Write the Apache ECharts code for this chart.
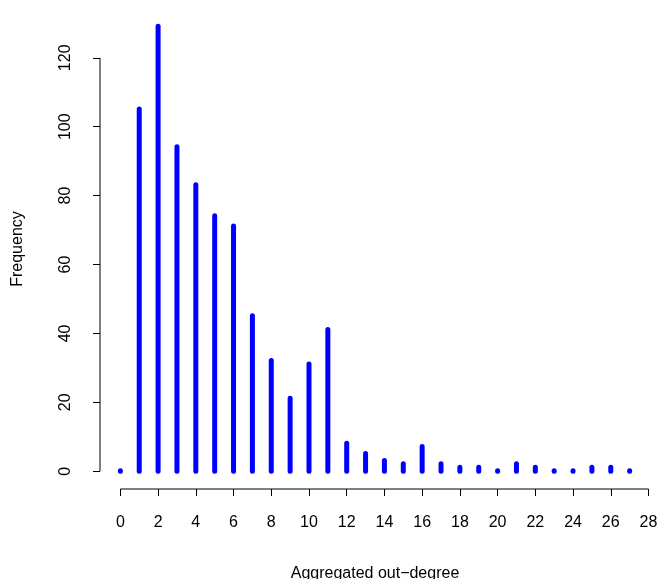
<!DOCTYPE html>
<html>
<head>
<meta charset="utf-8">
<script src="https://cdn.jsdelivr.net/npm/echarts@6/dist/echarts.min.js"></script>
<style>html,body{margin:0;background:#fff}#c{width:661px;height:579px}</style>
</head>
<body>
<div id="c"></div>
<script>
var degrees = [0,1,2,3,4,5,6,7,8,9,10,11,12,13,14,15,16,17,18,19,20,21,22,23,24,25,26,27];
var freq = [0,105,129,94,83,74,71,45,32,21,31,41,8,5,3,2,7,2,1,1,0,2,1,0,0,1,1,0];
var xTicks = [0,2,4,6,8,10,12,14,16,18,20,22,24,26,28];
var yTicks = [0,20,40,60,80,100,120];

var chart = echarts.init(document.getElementById('c'));
var font = 'Liberation Sans, Arial, sans-serif';
chart.setOption({
    animation: false,
    grid: {left: 100, right: 11, top: 9, bottom: 90, outerBoundsMode: 'none', containLabel: false},
    xAxis: {
        type: 'value', min: -1.08, max: 28.08,
        name: 'Aggregated out\u2212degree', nameLocation: 'middle', nameGap: 77,
        nameTextStyle: {fontFamily: font, fontSize: 16, color: '#000'},
        axisLine: {show: false, onZero: false}, splitLine: {show: false},
        axisTick: {show: true, length: 7, customValues: xTicks, lineStyle: {color: '#000'}},
        axisLabel: {customValues: xTicks, margin: 26, fontFamily: font, fontSize: 16, color: '#000'}
    },
    yAxis: {
        type: 'value', min: -5.16, max: 134.16,
        name: 'Frequency', nameLocation: 'middle', nameGap: 74,
        nameTextStyle: {fontFamily: font, fontSize: 16, color: '#000'},
        axisLine: {show: false, onZero: false}, splitLine: {show: false},
        axisTick: {show: true, length: 7, customValues: yTicks, lineStyle: {color: '#000'}},
        axisLabel: {customValues: yTicks, rotate: 90, margin: 26, fontFamily: font, fontSize: 16, color: '#000'}
    },
    series: [{
        type: 'custom',
        data: degrees.map(function (d, i) { return [d, freq[i]]; }),
        renderItem: function (params, api) {
            var top = api.coord([api.value(0), api.value(1)]);
            var base = api.coord([api.value(0), 0]);
            return {type: 'line', shape: {x1: base[0], y1: base[1], x2: top[0], y2: top[1] - 0.5},
                style: {stroke: '#0000ff', lineWidth: 5, lineCap: 'round'}};
        }
    }, {
        type: 'custom', clip: false,
        data: [[0, 0]],
        renderItem: function (params, api) {
            var a = api.coord([-1.08, 0]), b = api.coord([-1.08, 120]);
            var c = api.coord([0, -5.16]), d = api.coord([28, -5.16]);
            return {type: 'group', children: [
                {type: 'line', shape: {x1: a[0], y1: a[1], x2: b[0], y2: b[1]}, style: {stroke: '#000', lineWidth: 1}},
                {type: 'line', shape: {x1: c[0], y1: c[1], x2: d[0], y2: d[1]}, style: {stroke: '#000', lineWidth: 1}}
            ]};
        }
    }]
});
</script>
</body>
</html>
